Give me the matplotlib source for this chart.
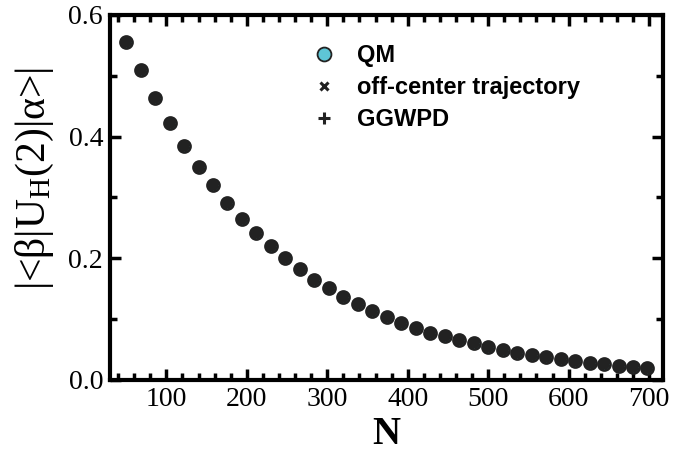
import matplotlib.pyplot as plt
import numpy as np
from matplotlib.lines import Line2D

plt.rcParams['font.family'] = ['Liberation Serif', 'DejaVu Serif']
plt.rcParams['mathtext.fontset'] = 'custom'
plt.rcParams['mathtext.rm'] = 'Liberation Serif'
plt.rcParams['mathtext.it'] = 'Liberation Serif:italic'

# N values and overlap amplitudes
N = list(range(50, 700, 18))
qm = [0.556, 0.509, 0.463, 0.423, 0.385, 0.350, 0.320, 0.291, 0.264, 0.241,
      0.220, 0.200, 0.182, 0.165, 0.151, 0.137, 0.125, 0.114, 0.103, 0.094,
      0.086, 0.078, 0.072, 0.065, 0.060, 0.054, 0.050, 0.045, 0.041, 0.038,
      0.034, 0.031, 0.028, 0.026, 0.023, 0.021, 0.019]
offcenter = qm
ggwpd = qm

cyan = '#5ec6d6'
dark = '#222222'

fig = plt.figure(figsize=(6.94, 4.54), dpi=100)
ax = fig.add_axes([0.1585, 0.163, 0.7965, 0.804])

ax.plot(N, qm, 'o', ms=8.6, mfc=cyan, mec=dark, mew=2.0, ls='none')
ax.plot(N, offcenter, 'x', ms=5.5, mec=dark, mew=3.2, ls='none')
ax.plot(N, ggwpd, '+', ms=7.2, mec=dark, mew=3.2, ls='none')

ax.set_xlim(30, 717)
ax.set_ylim(0, 0.6)
ax.set_xticks([100, 200, 300, 400, 500, 600, 700])
ax.set_xticks(np.arange(40, 717, 20), minor=True)
ax.set_yticks([0.0, 0.2, 0.4, 0.6])
ax.set_yticks([0.1, 0.3, 0.5], minor=True)
ax.set_yticklabels(['0.0', '0.2', '0.4', '0.6'])

for s in ax.spines.values():
    s.set_linewidth(3)
ax.tick_params(which='both', direction='in', top=True, right=True,
               labelsize=20, pad=5)
ax.tick_params(which='major', length=8, width=2.5)
ax.tick_params(which='minor', length=5, width=2.5)

ax.set_xlabel('N', fontsize=28, fontweight='bold', labelpad=3)
ax.set_ylabel(r'|<β|U$_\mathrm{H}$(2)|α>|', fontsize=30)
ax.yaxis.set_label_coords(-0.097, 0.553)

handles = [
    Line2D([], [], marker='o', ls='none', ms=10, mfc=cyan, mec=dark, mew=1.3),
    Line2D([], [], marker='x', ls='none', ms=6, mec=dark, mew=2.2),
    Line2D([], [], marker='+', ls='none', ms=8, mec=dark, mew=2.2),
]
labels = ['QM', 'off-center trajectory', 'GGWPD']
ax.legend(handles, labels, loc='upper left', bbox_to_anchor=(0.315, 0.978),
          frameon=False, handletextpad=0.6, labelspacing=0.38,
          handlelength=1.6,
          prop={'family': 'Liberation Sans', 'weight': 'bold', 'size': 17})

fig.savefig('out.png', dpi=100)
